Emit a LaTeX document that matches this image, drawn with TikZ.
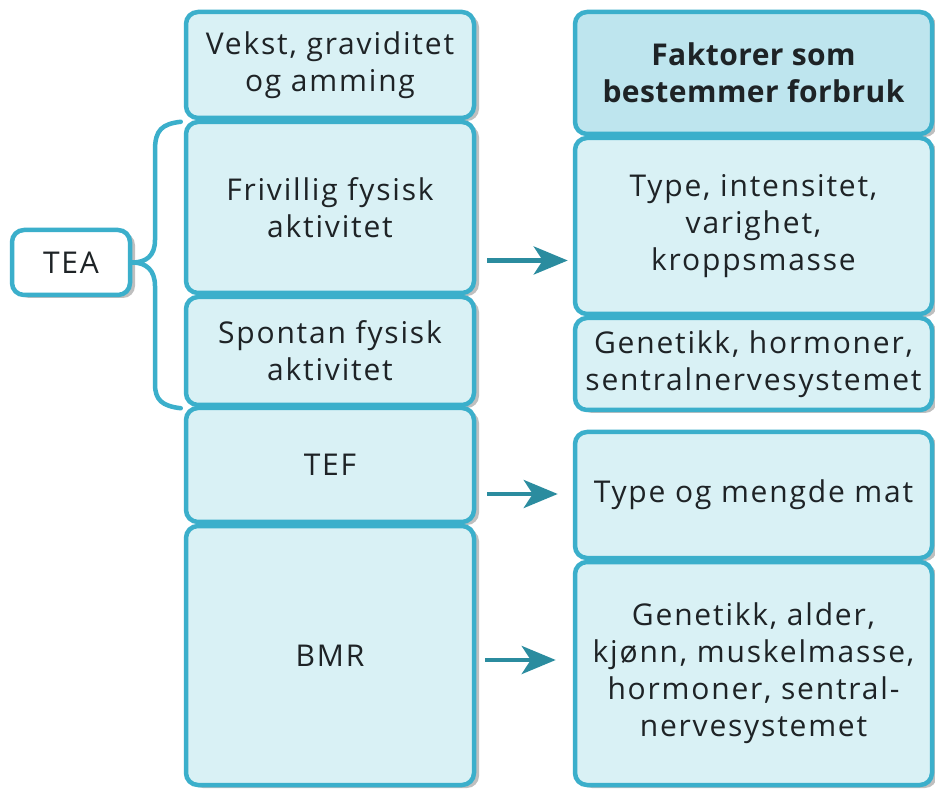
\documentclass[tikz,border=0pt]{standalone}
\usepackage{fontspec}
\setmainfont{Open Sans}[LetterSpace=6]
\usetikzlibrary{arrows.meta,shadows,calc}
\definecolor{edgec}{HTML}{3BAFCB}
\definecolor{boxfill}{HTML}{D9F1F5}
\definecolor{headfill}{HTML}{BEE5EE}
\definecolor{arrowc}{HTML}{2B8C9F}
\definecolor{txt}{HTML}{1E2326}
\begin{document}
\begin{tikzpicture}[x=1pt,y=-1pt,
  box/.style={draw=edgec, line width=4.5pt, fill=boxfill, rounded corners=12pt,
    align=center, text=txt, font=\fontsize{30}{37}\selectfont, inner sep=0pt,
    drop shadow={shadow xshift=5pt, shadow yshift=-3pt, opacity=0.25, fill=black}},
  headbox/.style={box, fill=headfill, font=\fontsize{30}{37}\selectfont\bfseries\addfontfeature{LetterSpace=1.5}},
  teabox/.style={box, fill=white},
  flow/.style={draw=arrowc, line width=4.5pt, -{Stealth[length=34pt,width=28pt,inset=9pt]}},
  bracec/.style={draw=edgec, line width=4.5pt, line cap=round}]
\useasboundingbox[fill=white] (0,0) rectangle (935,791);
% left column
\node[box, minimum width=288, minimum height=106] (v) at (330,65) {Vekst, graviditet\\og amming};
\node[box, minimum width=288, minimum height=171] (f) at (330,207.5) {Frivillig fysisk\\aktivitet};
\node[box, minimum width=288, minimum height=108] (s) at (330,351) {Spontan fysisk\\aktivitet};
\node[box, minimum width=288, minimum height=114] (tef) at (330,465) {TEF};
\node[box, minimum width=288, minimum height=259] (bmr) at (330,655.5) {BMR};
% right column
\node[headbox, minimum width=357, minimum height=122] (r1) at (753.5,73) {Faktorer som\\bestemmer forbruk};
\node[box, minimum width=357, minimum height=176] (r2) at (753.5,226) {Type, intensitet,\\varighet,\\kroppsmasse};
\node[box, minimum width=357, minimum height=92] (r3) at (753.5,364) {Genetikk, hormoner,\\sentralnervesystemet};
\node[box, minimum width=357, minimum height=126] (r4) at (753.5,495) {Type og mengde mat};
\node[box, minimum width=357, minimum height=223] (r5) at (753.5,673.5) {Genetikk, alder,\\kjønn, muskelmasse,\\hormoner, sentral-\\nervesystemet};
% TEA
\node[teabox, minimum width=118, minimum height=65] (tea) at (71,262.5) {TEA};
% brace
\coordinate (btop) at ($(f.north west)+(-3,2)$);
\coordinate (bbot) at ($(s.south west)+(-3,1)$);
\draw[bracec] (btop) .. controls (162,124) and (155,130) .. (155,150) -- (155,240)
  .. controls (155,256) and (146,262.5) .. (tea.east)
  .. controls (146,262.5) and (155,270) .. (155,286) -- (155,384)
  .. controls (155,400) and (162,406) .. (bbot);
% arrows
\draw[flow] ($(f.east |- tea.east)+(11,-2)$) -- ($(r2.west |- tea.east)+(-5,-2)$);
\draw[flow] ($(tef.east)+(11,29)$) -- ($(r4.west)+(-15,-1)$);
\draw[flow] ($(bmr.east)+(9,4.5)$) -- ($(r5.west)+(-17,-13.5)$);
\end{tikzpicture}
\end{document}
